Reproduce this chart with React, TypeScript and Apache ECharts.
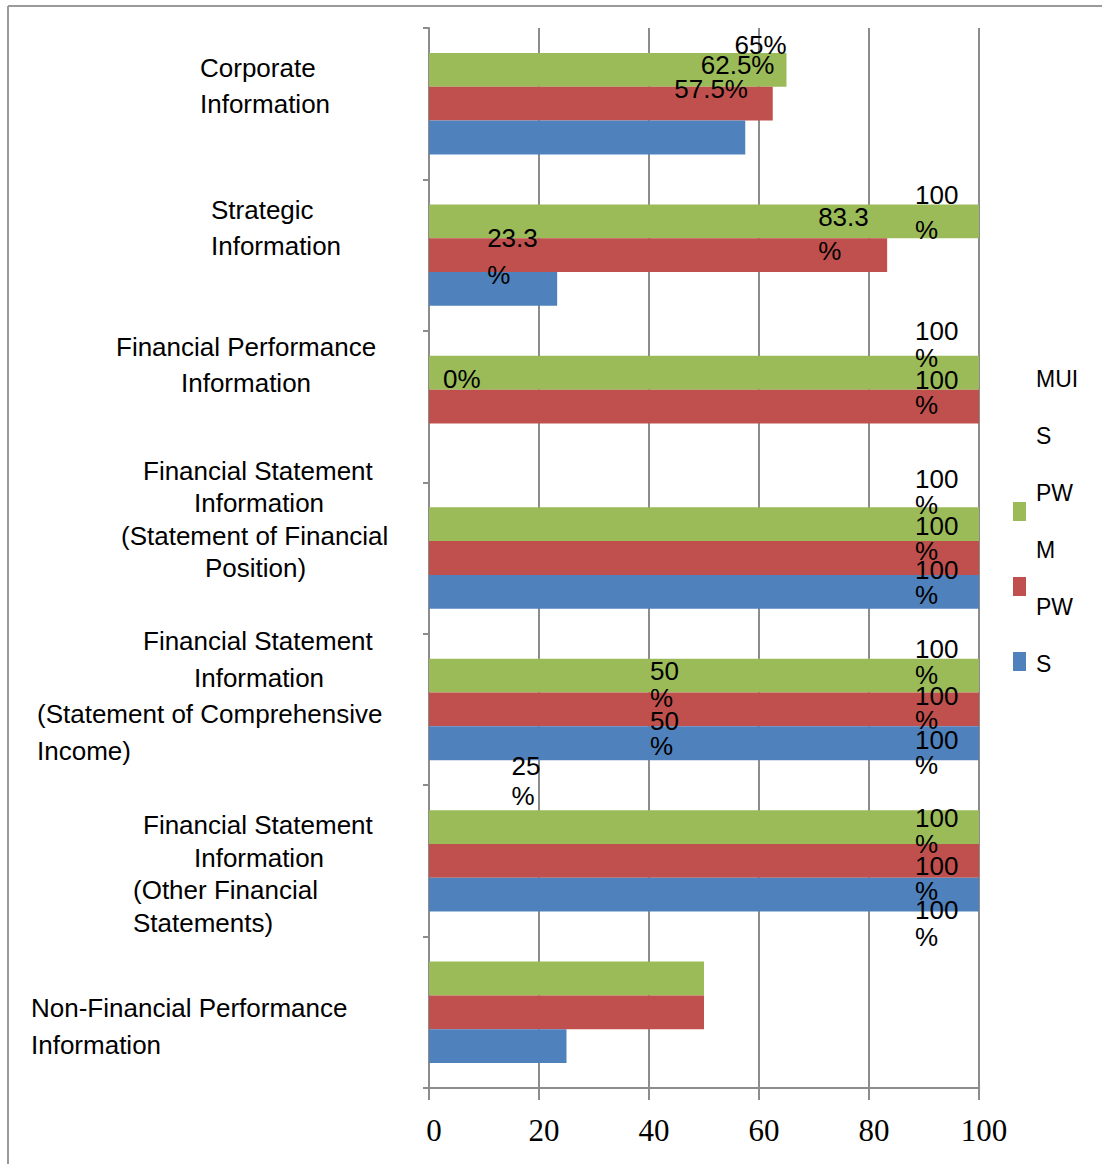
import React, { useEffect, useRef } from "react";
import * as echarts from "echarts";

// ---------- data ----------
const CATEGORIES = [
  "Corporate\nInformation",
  "Strategic\nInformation",
  "Financial Performance\nInformation",
  "Financial Statement\nInformation\n(Statement of Financial\nPosition)",
  "Financial Statement\nInformation\n(Statement of Comprehensive\nIncome)",
  "Financial Statement\nInformation\n(Other Financial\nStatements)",
  "Non-Financial Performance\nInformation",
];
const SERIES_NAMES = ["MUIS", "PWM", "PWS"];
const MUIS = [65, 100, 100, 100, 100, 100, 50];
const PWM = [62.5, 83.3, 100, 100, 100, 100, 50];
const PWS = [57.5, 23.3, 0, 100, 100, 100, 25];
const X_MIN = 0;
const X_MAX = 100;
const X_STEP = 20;

// ---------- styles / layout ----------
const COLORS = ["#9BBB59", "#C0504D", "#4F81BD"];
const SANS = "'Liberation Sans', Arial, sans-serif";
const SERIF = "'Liberation Serif', 'Times New Roman', serif";
const GRAY = "#8c8c8c";

// category label layout (left x of each line, line height, vertical shift)
const CAT_LINE_LEFT = [
  [200, 200],
  [211, 211],
  [116, 181],
  [143, 194, 121, 205],
  [143, 194, 37, 37],
  [143, 194, 133, 133],
  [31, 31],
];
const CAT_LINE_HEIGHT = [36, 36, 36, 32.3, 36.7, 32.7, 37];
const CAT_SHIFT = [-17.7, -27.1, -41.6, -38.5, -13.4, 13.1, 14.2];
const CAT_LABEL_X = 31;

// bar label offsets (relative to bar end / bar centre)
const LABEL_DX = [
  [-52, -64, -64, -64, -64, -64, -54],
  [-72, -69, -64, -64, -64, -64, -54],
  [-71, -70, 14, -64, -64, -64, -55],
];
const LABEL_DY = [
  [-24.5, -8.5, -28, -32, -14, 3.5, -294],
  [-39, -21, -14.5, -19.5, -1, 18, -279],
  [-49, -32, -61, -9.5, 9, 28.5, -265.5],
];
const LABEL_LH = [
  [27, 35, 27, 26, 26, 26, 27],
  [27, 34, 25, 25, 24, 25, 25],
  [27, 37, 27, 25, 25, 27, 30],
];

// legend layout: top of each legend block, upward shift of its text
const LEGEND_TOP = [362, 476, 590];
const LEGEND_TEXT_UP = [104.5, 65.5, 26.5];

const GRID = { left: 429, top: 28, right: 123, bottom: 76 };

export default function App() {
  const ref = useRef<HTMLDivElement>(null);

  useEffect(() => {
    if (!ref.current) return;
    const chart = echarts.init(ref.current, null, { renderer: "svg" });

    const rich: Record<string, any> = {};
    CATEGORIES.forEach((c, i) => {
      const lines = c.split("\n");
      lines.forEach((_, j) => {
        rich[`c${i}_${j}`] = {
          fontFamily: SANS,
          fontSize: 26,
          color: "#000",
          lineHeight: CAT_LINE_HEIGHT[i],
          padding: [0, 0, 0, CAT_LINE_LEFT[i][j] - CAT_LABEL_X],
        };
      });
      rich[`sp${i}`] = { fontSize: 1, lineHeight: Math.abs(CAT_SHIFT[i]) * 2 };
    });

    const seriesData = [MUIS, PWM, PWS];

    const fmt = (v: number, catIdx: number) =>
      catIdx === 0 || v === 0 ? `${v}%` : `${v}\n%`;

    const series = seriesData.map((vals, s) => ({
      name: SERIES_NAMES[s],
      type: "bar",
      barGap: "0%",
      barCategoryGap: "33%",
      itemStyle: { color: COLORS[s] },
      label: {
        show: true,
        position: "right",
        distance: 0,
        align: "left",
        fontFamily: SANS,
        fontSize: 26,
        color: "#000",
        formatter: (p: any) => fmt(p.value, p.dataIndex),
      },
      data: vals.map((v, i) => ({
        value: v,
        label: { offset: [LABEL_DX[s][i], LABEL_DY[s][i]], lineHeight: LABEL_LH[s][i] },
      })),
    }));

    const legends = SERIES_NAMES.map((name, i) => ({
      data: [name],
      orient: "vertical",
      left: 1008,
      top: LEGEND_TOP[i],
      icon: "rect",
      itemWidth: 13,
      itemHeight: 19,
      itemGap: 0,
      selectedMode: false,
      formatter: (n: string) =>
        `{t|${n.slice(0, -1)}}\n{t|${n.slice(-1)}}\n{s| }`,
      textStyle: {
        rich: {
          t: { fontFamily: SANS, fontSize: 23, lineHeight: 57, color: "#000", padding: [0, 0, 0, 5] },
          s: { fontSize: 1, lineHeight: LEGEND_TEXT_UP[i] * 2 },
        },
      },
    }));

    chart.setOption({
      animation: false,
      backgroundColor: "#fff",
      grid: { ...GRID, containLabel: false, outerBoundsMode: "none" },
      legend: legends,
      xAxis: {
        type: "value",
        min: X_MIN,
        max: X_MAX,
        interval: X_STEP,
        axisLine: { show: true, lineStyle: { color: GRAY, width: 2 } },
        axisTick: { show: true, length: 12, lineStyle: { color: GRAY, width: 2 } },
        axisLabel: {
          fontFamily: SERIF,
          fontSize: 31,
          color: "#000",
          margin: 27,
          padding: [0, 0, 0, 10],
        },
        splitLine: { show: true, lineStyle: { color: GRAY, width: 2 } },
      },
      yAxis: {
        type: "category",
        inverse: true,
        data: CATEGORIES,
        axisLine: { show: true, lineStyle: { color: GRAY, width: 2 } },
        axisTick: { show: true, length: 6, interval: 0, lineStyle: { color: GRAY, width: 2 } },
        splitLine: { show: false },
        axisLabel: {
          interval: 0,
          hideOverlap: false,
          align: "left",
          verticalAlign: "middle",
          margin: GRID.left - CAT_LABEL_X,
          rich,
          formatter: (value: string, idx: number) => {
            const lines = value.split("\n");
            const parts: string[] = [];
            if (CAT_SHIFT[idx] > 0) parts.push(`{sp${idx}| }`);
            lines.forEach((ln, j) => parts.push(`{c${idx}_${j}|${ln}}`));
            if (CAT_SHIFT[idx] < 0) parts.push(`{sp${idx}| }`);
            return parts.join("\n");
          },
        },
      },
      graphic: [
        { type: "line", shape: { x1: 8, y1: 6, x2: 1102, y2: 6 }, style: { stroke: "#9a9a9a", lineWidth: 2 } },
        { type: "line", shape: { x1: 8, y1: 6, x2: 8, y2: 1164 }, style: { stroke: "#9a9a9a", lineWidth: 2 } },
      ],
      series,
    });

    return () => chart.dispose();
  }, []);

  return (
    <div
      ref={ref}
      style={{ position: "absolute", left: 0, top: 0, width: 1102, height: 1164, background: "#fff" }}
    />
  );
}
